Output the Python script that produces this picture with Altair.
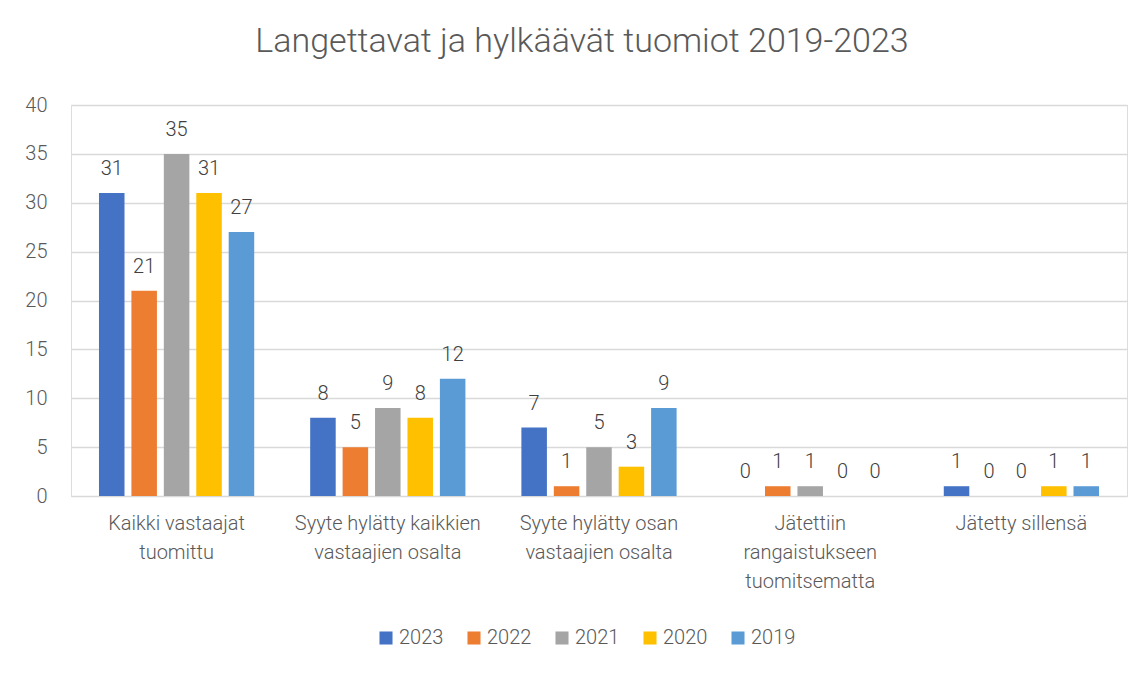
import altair as alt
import pandas as pd

categories = [
    "Kaikki vastaajat\ntuomittu",
    "Syyte hylätty kaikkien\nvastaajien osalta",
    "Syyte hylätty osan\nvastaajien osalta",
    "Jätettiin\nrangaistukseen\ntuomitsematta",
    "Jätetty sillensä",
]
years = ["2023", "2022", "2021", "2020", "2019"]
colors = ["#4472C4", "#ED7D31", "#A5A5A5", "#FFC000", "#5B9BD5"]
values = {
    "2023": [31, 8, 7, 0, 1],
    "2022": [21, 5, 1, 1, 0],
    "2021": [35, 9, 5, 1, 0],
    "2020": [31, 8, 3, 0, 1],
    "2019": [27, 12, 9, 0, 1],
}

rows = []
for y in years:
    for c, v in zip(categories, values[y]):
        rows.append({"kategoria": c, "vuosi": y, "arvo": v})
df = pd.DataFrame(rows)

FONT = "Roboto"

x = alt.X(
    "kategoria:N",
    sort=categories,
    title=None,
    scale=alt.Scale(paddingInner=0.265, paddingOuter=0.1325),
    axis=alt.Axis(
        labelAngle=0,
        labelExpr="split(datum.label, '\\n')",
        labelFontSize=20,
        labelFontWeight=300,
        labelColor="#595959",
        labelFont=FONT,
        labelLineHeight=29,
        labelPadding=17,
        labelLimit=400,
        ticks=False,
        domainColor="#D9D9D9",
        domainWidth=1,
        grid=False,
        labelBaseline="top",
    ),
)
xo = alt.XOffset(
    "vuosi:N",
    sort=years,
    scale=alt.Scale(paddingInner=0.213, paddingOuter=0),
)
yenc = alt.Y(
    "arvo:Q",
    title=None,
    scale=alt.Scale(domain=[0, 40], nice=False),
    axis=alt.Axis(
        values=[0, 5, 10, 15, 20, 25, 30, 35, 40],
        labelFontSize=20,
        labelFontWeight=300,
        labelColor="#595959",
        labelFont=FONT,
        labelPadding=24,
        ticks=False,
        domain=False,
        gridColor="#D9D9D9",
        gridWidth=1.3,
    ),
)
color = alt.Color(
    "vuosi:N",
    sort=years,
    scale=alt.Scale(domain=years, range=colors),
    legend=alt.Legend(
        title=None,
        orient="none",
        direction="horizontal",
        legendX=305,
        legendY=523,
        symbolType="square",
        symbolSize=170,
        symbolStrokeWidth=0,
        labelFontSize=20,
        labelFontWeight=300,
        labelColor="#595959",
        labelFont=FONT,
        labelOffset=3,
        columnPadding=20,
    ),
)

bars = alt.Chart(df).mark_bar().encode(x=x, xOffset=xo, y=yenc, color=color)
labels = alt.Chart(df).mark_text(
    baseline="bottom", dy=-14, fontSize=20, fontWeight=300, color="#404040", font=FONT
).encode(x=x, xOffset=xo, y=yenc, text="arvo:Q")

chart = (
    alt.layer(bars, labels)
    .properties(
        width=1056,
        height=391,
        autosize=alt.AutoSizeParams(type="none"),
        padding={"left": 63, "top": 97, "right": 8, "bottom": 160},
        title=alt.Title(
            "Langettavat ja hylkäävät tuomiot 2019-2023",
            fontSize=34,
            font=FONT,
            fontWeight=300,
            color="#595959",
            anchor="middle",
            frame="group",
            offset=36,
            dx=-17,
        ),
    )
    .configure_view(stroke=None)
    .configure(background="white")
)

chart.save("out.html", embed_options={"renderer": "svg", "actions": False})
